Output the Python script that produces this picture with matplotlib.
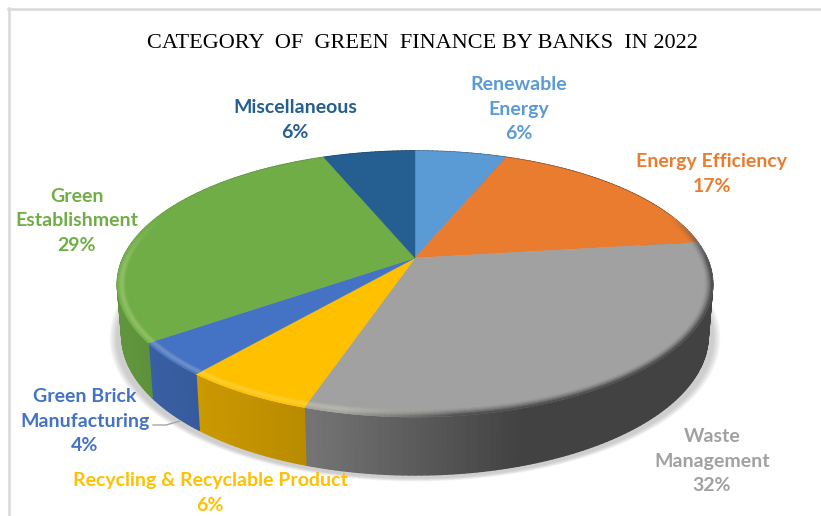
import numpy as np
import matplotlib
matplotlib.use("Agg")
import matplotlib.pyplot as plt
from matplotlib.collections import PolyCollection
from matplotlib.colors import to_rgb

# Green finance by category, percent
categories = ["Renewable\nEnergy", "Energy Efficiency", "Waste\nManagement",
              "Recycling & Recyclable Product", "Green Brick\nManufacturing",
              "Green\nEstablishment", "Miscellaneous"]
values = [6, 17, 32, 6, 4, 29, 6]
colors = ["#5b9bd5", "#ea7c30", "#a1a1a1", "#ffc000", "#4472c4", "#70ad47", "#255e91"]
label_centers = [(519, 109), (712, 174), (712, 461), (210, 493), (85, 421), (77, 221), (295, 120)]
title = "CATEGORY  OF  GREEN  FINANCE BY BANKS  IN 2022"

# Perspective projection of the unit disc onto the canvas
CX, CY, A, B, K = 415.0, 258.0, 292.0, 128.0, 0.195
BEVEL = 8.0


def project(theta, r=1.0):
    x = r * np.sin(theta)
    z = r * np.cos(theta)
    w = 1 + K * z
    return CX + A * x / w, CY - B * z / w


def wall_depth(theta):
    return 50 + 8 * np.clip(-np.cos(theta), -1, 1)


def mix(c, other, t):
    return tuple((1 - t) * a + t * b for a, b in zip(c, other))


def toward_centre(x, y, px):
    # Move rim points a fixed pixel distance along the line to the pie centre
    dx, dy = x - CX, y - CY
    dist = np.hypot(dx, dy)
    return x - dx / dist * px, y - dy / dist * px


fig = plt.figure(figsize=(8.21, 5.16), dpi=100, facecolor="white")
ax = fig.add_axes([0, 0, 1, 1])
ax.set_xlim(0, 821)
ax.set_ylim(516, 0)
ax.axis("off")

edges = np.cumsum([0] + values) / sum(values) * 2 * np.pi

# Soft drop shadow under the disc
ring = np.linspace(0, 2 * np.pi, 361)
for i in range(12):
    grow = 1 + 0.0022 * (12 - i)
    sx, sy = project(ring)
    sx = CX + (sx - CX) * grow
    sy = CY + 25 + (sy - CY - 25) * grow + wall_depth(ring) + 3
    ax.fill(sx, sy, color="#808080", alpha=0.035, lw=0, zorder=1)

# Side wall, shaded from left to right
for start, stop, col in zip(edges[:-1], edges[1:], colors):
    base = np.array(to_rgb(col))
    n = max(2, int(np.degrees(stop - start) / 1.0))
    t = np.linspace(start, stop, n + 1)
    x, y = project(t)
    d = wall_depth(t)
    xb = CX + (x - CX) * 0.985
    quads, shades = [], []
    for i in range(n):
        quads.append([(x[i], y[i]), (x[i + 1], y[i + 1]),
                      (xb[i + 1], y[i + 1] + d[i + 1]), (xb[i], y[i] + d[i])])
        f = np.interp((x[i] + x[i + 1]) / 2, [120, 205, 310, 520], [0.86, 0.79, 0.72, 0.41])
        shades.append(tuple(base * f))
    ax.add_collection(PolyCollection(quads, facecolors=shades, edgecolors=shades,
                                     linewidths=1.0, zorder=2))

# Top face
for start, stop, col in zip(edges[:-1], edges[1:], colors):
    t = np.linspace(start, stop, 120)
    x, y = project(t)
    ax.fill(np.r_[CX, x], np.r_[CY, y], color=col, lw=0.3, zorder=3)

# Bevel along the near rim of the disc
steps = 7
for start, stop, col in zip(edges[:-1], edges[1:], colors):
    base = to_rgb(col)
    n = max(2, int(np.degrees(stop - start) / 1.0))
    t = np.linspace(start, stop, n + 1)
    x, y = project(t)
    for j in range(steps):
        xi, yi = toward_centre(x, y, BEVEL * (1 - j / steps))
        xo, yo = toward_centre(x, y, BEVEL * (1 - (j + 1) / steps))
        u = (j + 0.5) / steps
        quads, shades = [], []
        for i in range(n):
            mid = (t[i] + t[i + 1]) / 2
            if np.cos(mid) > 0.35:
                continue
            weight = np.clip((0.35 - np.cos(mid)) / 0.4, 0, 1)
            xm = (x[i] + x[i + 1]) / 2
            s = np.clip((xm - 340) / 120, 0, 1)
            light = mix(base, (1, 1, 0.8), 0.22 * np.sin(np.pi * u))
            dark = mix(base, (0.27, 0.27, 0.27), u ** 1.5)
            c = mix(light, dark, s)
            quads.append([(xi[i], yi[i]), (xi[i + 1], yi[i + 1]),
                          (xo[i + 1], yo[i + 1]), (xo[i], yo[i])])
            shades.append(mix(base, c, weight))
        if quads:
            ax.add_collection(PolyCollection(quads, facecolors=shades, edgecolors=shades,
                                             linewidths=0.5, zorder=4))

# Data labels
for cat, val, col, (lx, ly) in zip(categories, values, colors, label_centers):
    ax.text(lx, ly, f"{cat}\n{val}%", color=col, ha="center", va="center",
            family="Lato", weight="bold", fontsize=14, linespacing=1.53, zorder=6)

# Leader line for the narrow slice
ax.plot([153, 166, 180], [425, 425, 421], color="#a6a6a6", lw=1, zorder=5)

ax.text(422, 43, title, family="Liberation Serif", fontsize=16, color="black",
        ha="center", va="center", zorder=6)

# Chart frame
ax.plot([8, 821], [9, 9], color="#d9d9d9", lw=1.8, zorder=0)
ax.plot([9, 9], [8, 516], color="#d9d9d9", lw=1.8, zorder=0)

fig.savefig("out.png", dpi=100, facecolor="white")
